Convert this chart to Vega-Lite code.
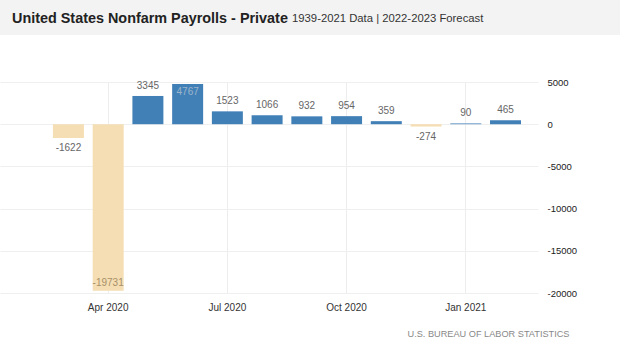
{
  "$schema": "https://vega.github.io/schema/vega-lite/v6.json",
  "padding": 0,
  "background": "white",
  "bounds": "flush",
  "spacing": 82,
  "config": {
    "view": {"stroke": null},
    "font": "Liberation Sans",
    "axis": {"labelFont": "Liberation Sans", "titleFont": "Liberation Sans"},
    "title": {"font": "Liberation Sans"},
    "locale": {"number": {"decimal": ".", "thousands": ",", "grouping": [3], "currency": ["$", ""], "minus": "-"}}
  },
  "vconcat": [
    {
      "hconcat": [
        {
          "width": 288,
          "height": 35,
          "view": {"fill": "#f3f3f3", "stroke": null},
          "data": {"values": []},
          "mark": "rect",
          "title": {
            "text": "United States Nonfarm Payrolls - Private",
            "anchor": "start",
            "frame": "group",
            "orient": "top",
            "offset": -37,
            "dx": 12,
            "baseline": "alphabetic",
            "fontSize": 14.4,
            "fontWeight": "bold",
            "color": "#222222"
          }
        },
        {
          "width": 332,
          "height": 35,
          "view": {"fill": "#f3f3f3", "stroke": null},
          "data": {"values": []},
          "mark": "rect",
          "title": {
            "text": "1939-2021 Data | 2022-2023 Forecast",
            "anchor": "start",
            "frame": "group",
            "orient": "top",
            "offset": -33,
            "dx": 4,
            "baseline": "alphabetic",
            "fontSize": 11.3,
            "fontWeight": "normal",
            "color": "#333333"
          }
        }
      ],
      "bounds": "flush",
      "spacing": 0
    },
    {
      "width": 538,
      "height": 211,
      "data": {
        "values": [
          {"month": "Mar 2020", "value": -1622},
          {"month": "Apr 2020", "value": -19731},
          {"month": "May 2020", "value": 3345},
          {"month": "Jun 2020", "value": 4767},
          {"month": "Jul 2020", "value": 1523},
          {"month": "Aug 2020", "value": 1066},
          {"month": "Sep 2020", "value": 932},
          {"month": "Oct 2020", "value": 954},
          {"month": "Nov 2020", "value": 359},
          {"month": "Dec 2020", "value": -274},
          {"month": "Jan 2021", "value": 90},
          {"month": "Feb 2021", "value": 465}
        ]
      },
      "encoding": {
        "x": {
          "field": "month",
          "type": "ordinal",
          "sort": null,
          "scale": {"paddingInner": 0.22, "paddingOuter": 0.88, "align": 0.757},
          "axis": {
            "values": ["Apr 2020", "Jul 2020", "Oct 2020", "Jan 2021"],
            "labelAngle": 0,
            "bandPosition": 0.5,
            "grid": true,
            "gridColor": "#ededed",
            "ticks": false,
            "domain": false,
            "labelFontSize": 10,
            "labelColor": "#333333",
            "labelPadding": 9,
            "title": "U.S. BUREAU OF LABOR STATISTICS",
            "titleFontSize": 9.2,
            "titleFontWeight": "normal",
            "titleColor": "#888888",
            "titleAlign": "right",
            "titleAnchor": "end",
            "titleX": 569,
            "titleY": 43,
            "titleBaseline": "alphabetic"
          }
        }
      },
      "layer": [
        {
          "mark": {"type": "bar"},
          "encoding": {
            "y": {
              "field": "value",
              "type": "quantitative",
              "scale": {"domain": [-20000, 5000], "nice": false},
              "axis": {
                "orient": "right",
                "values": [5000, 0, -5000, -10000, -15000, -20000],
                "format": "d",
                "grid": true,
                "gridColor": "#efefef",
                "ticks": false,
                "domain": false,
                "labelFontSize": 9.5,
                "labelColor": "#222222",
                "labelPadding": 9,
                "labelFlush": false,
                "labelAlign": "left",
                "title": null
              }
            },
            "color": {
              "condition": {"test": "datum.value >= 0", "value": "#4180b7"},
              "value": "#f5deb3"
            }
          }
        },
        {
          "transform": [{"filter": "datum.value >= 0 && datum.value < 4500"}],
          "mark": {"type": "text", "baseline": "middle", "dy": -10, "fontSize": 10, "color": "#666666"},
          "encoding": {
            "y": {"field": "value", "type": "quantitative"},
            "text": {"field": "value", "type": "quantitative", "format": "d"}
          }
        },
        {
          "transform": [{"filter": "datum.value < 0 && datum.value > -15000"}],
          "mark": {"type": "text", "baseline": "middle", "dy": 10, "fontSize": 10, "color": "#666666"},
          "encoding": {
            "y": {"field": "value", "type": "quantitative"},
            "text": {"field": "value", "type": "quantitative", "format": "d"}
          }
        },
        {
          "transform": [{"filter": "datum.value >= 4500"}],
          "mark": {"type": "text", "baseline": "middle", "dy": 8, "fontSize": 10, "color": "#9db4ca"},
          "encoding": {
            "y": {"field": "value", "type": "quantitative"},
            "text": {"field": "value", "type": "quantitative", "format": "d"}
          }
        },
        {
          "transform": [{"filter": "datum.value <= -15000"}],
          "mark": {"type": "text", "baseline": "middle", "dy": -8, "fontSize": 10, "color": "#a8906a"},
          "encoding": {
            "y": {"field": "value", "type": "quantitative"},
            "text": {"field": "value", "type": "quantitative", "format": "d"}
          }
        }
      ]
    }
  ]
}
